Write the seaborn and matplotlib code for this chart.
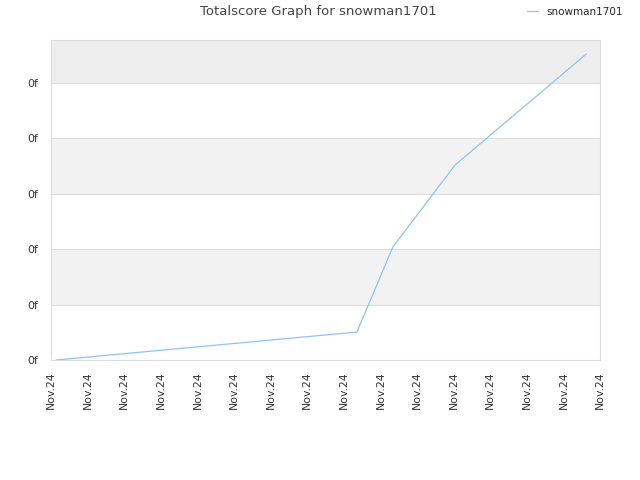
import matplotlib
matplotlib.use("Agg")
import matplotlib.pyplot as plt
import seaborn as sns
import pandas as pd
from matplotlib.lines import Line2D

# Data (x in tick-interval units, y in gridline units)
x_vals = [0.14, 8.36, 9.34, 11.04, 14.62]
y_vals = [0.0, 0.505, 2.04, 3.52, 5.52]
series_name = "snowman1701"
x_tick_labels = ["Nov.24"] * 16
y_tick_labels = ["0f"] * 6

df = pd.DataFrame({"x": x_vals, "y": y_vals, "player": series_name})

sns.set_style("white")
plt.rcParams["font.family"] = ["DejaVu Sans"]

fig = plt.figure(figsize=(6.4, 4.8), dpi=100)
ax = fig.add_axes([51/640, 1-360/480, (600-51)/640, (360-40)/480])

ymax = 320/55.4
# alternating bands
bands = [(1, 2, "#f2f2f2"), (3, 4, "#f2f2f2"), (5, ymax, "#ededed")]
for lo, hi, c in bands:
    ax.axhspan(lo, hi, color=c, zorder=0, lw=0)
for yy in range(1, 6):
    ax.axhline(yy, color="#dddddd", lw=0.8, zorder=1)

sns.lineplot(data=df, x="x", y="y", hue="player", palette=["#8ec3f5"],
             lw=0.9, ax=ax, zorder=3, legend=False)

ax.set_xlim(0, 15)
ax.set_ylim(0, ymax)
ax.set_xticks(range(16))
ax.set_xticklabels(x_tick_labels, rotation=90, fontsize=7.8, color="#333333")
ax.set_yticks(range(6))
ax.set_yticklabels(y_tick_labels, fontsize=7.8, color="#333333")
ax.tick_params(axis="y", length=0, pad=9)
ax.tick_params(axis="x", length=0, pad=8)
ax.set_xlabel("")
ax.set_ylabel("")
for s in ax.spines.values():
    s.set_color("#dddddd")
    s.set_linewidth(0.8)

fig.text(318/640, 1-12/480, "Totalscore Graph for snowman1701", ha="center",
         va="center", fontsize=9.5, color="#444444")
handle = Line2D([0], [0], color="#8ec3f5", lw=0.9)
fig.legend([handle], [series_name], loc="center right",
           bbox_to_anchor=(632/640, 1-12/480), frameon=False, fontsize=7.5,
           handlelength=1.0, handletextpad=0.8)

fig.savefig("out.png", dpi=100)
